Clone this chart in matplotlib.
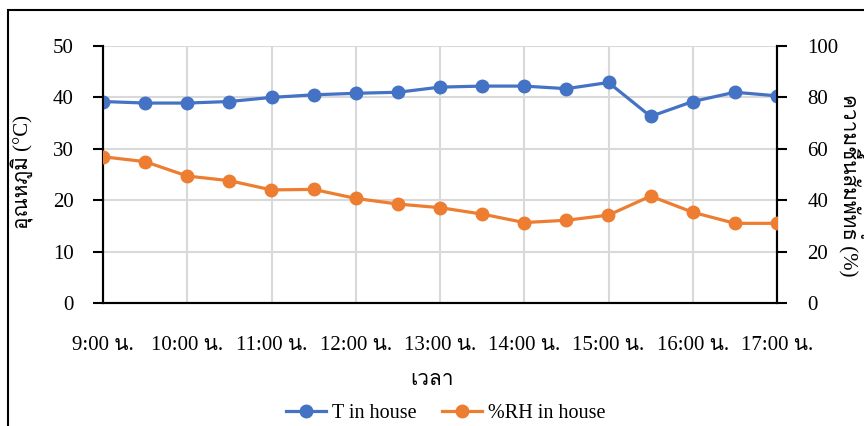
import matplotlib
matplotlib.use("Agg")
import matplotlib.pyplot as plt
from matplotlib import font_manager
from matplotlib.ft2font import FT2Font
from matplotlib.patches import Rectangle

# half-hourly readings, 9:00 to 17:00
times = ["9:00", "9:30", "10:00", "10:30", "11:00", "11:30", "12:00", "12:30",
         "13:00", "13:30", "14:00", "14:30", "15:00", "15:30", "16:00", "16:30", "17:00"]
temp_c = [39.2, 38.9, 38.9, 39.2, 40.0, 40.5, 40.8, 41.0,
          42.0, 42.2, 42.2, 41.7, 42.9, 36.3, 39.2, 41.0, 40.3]
rh_pct = [56.9, 55.0, 49.4, 47.6, 44.0, 44.2, 40.7, 38.5,
          37.1, 34.6, 31.3, 32.2, 34.2, 41.6, 35.3, 31.0, 31.0]
hour_labels = ["9:00 น.", "10:00 น.", "11:00 น.", "12:00 น.", "13:00 น.",
               "14:00 น.", "15:00 น.", "16:00 น.", "17:00 น."]


def thai_family():
    # first installed face that can actually draw Thai
    for f in font_manager.fontManager.ttflist:
        try:
            if 0x0E2D in FT2Font(f.fname).get_charmap():
                return f.name
        except Exception:
            continue
    return None


fams = ["Liberation Serif"]
th = thai_family()
if th:
    fams.append(th)
fams.append("DejaVu Sans")
plt.rcParams["font.family"] = fams
plt.rcParams["font.size"] = 15

BLUE = "#4472C4"
ORANGE = "#ED7D31"
GRID = "#D9D9D9"

fig = plt.figure(figsize=(8.64, 4.26), dpi=100)
fig.patches.append(Rectangle((8 / 864, -0.1), 2.0, 1.1 - 10 / 426, transform=fig.transFigure,
                             fill=False, edgecolor="black", linewidth=1.5))

ax = fig.add_axes([103 / 864, 1 - 303 / 426, 674 / 864, 257 / 426])
ax2 = ax.twinx()

x = list(range(len(times)))
ax.plot(x, temp_c, "-o", color=BLUE, lw=2.3, ms=9, label="T in house", zorder=3)
ax2.plot(x, rh_pct, "-o", color=ORANGE, lw=2.3, ms=9, label="%RH in house", zorder=3)

ax.set_xlim(0, len(times) - 1)
ax.set_ylim(0, 50)
ax2.set_ylim(0, 100)
ax.set_yticks(range(0, 51, 10))
ax2.set_yticks(range(0, 101, 20))
ax.set_xticks(x[::2])
ax.set_xticklabels(hour_labels)

ax.grid(True, color=GRID, lw=1.5)
ax.set_axisbelow(True)
ax.tick_params(axis="x", length=0, pad=24)
ax.tick_params(axis="y", length=7, width=1.5, direction="out", pad=14)
ax2.tick_params(axis="y", length=7, width=1.5, direction="out", pad=15)

for a in (ax, ax2):
    a.spines["top"].set_visible(False)
    for s in ("left", "right", "bottom"):
        a.spines[s].set_linewidth(1.5)

ax.set_xlabel("เวลา", va="center")
ax.xaxis.set_label_coords(0.488, -0.30)
ax.set_ylabel("อุณหภูมิ (°C)", va="center")
ax.yaxis.set_label_coords(-0.120, 0.51)
ax2.set_ylabel("ความชื้นสัมพัทธ์ (%)", rotation=270, va="center")
ax2.yaxis.set_label_coords(1.11, 0.46)

h1, l1 = ax.get_legend_handles_labels()
h2, l2 = ax2.get_legend_handles_labels()
fig.legend(h1 + h2, l1 + l2, loc="center", bbox_to_anchor=(446 / 864, 1 - 413 / 426),
           ncol=2, frameon=False, handlelength=2.0, handletextpad=0.3,
           columnspacing=1.25, fontsize=14.5)

fig.savefig("out.png", dpi=100)
